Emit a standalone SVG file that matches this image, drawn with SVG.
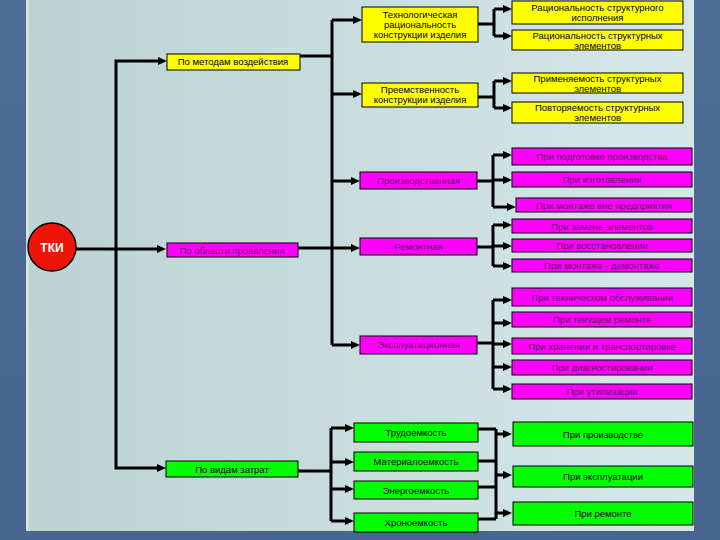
<svg xmlns="http://www.w3.org/2000/svg" width="720" height="540" viewBox="0 0 720 540">
<defs>
<linearGradient id="panel" x1="0" y1="0" x2="1" y2="0">
<stop offset="0" stop-color="#bcd3d3"/>
<stop offset="1" stop-color="#d6e7e9"/>
</linearGradient>
<linearGradient id="outer" x1="0" y1="0" x2="0" y2="1">
<stop offset="0" stop-color="#4e6d96"/>
<stop offset="1" stop-color="#47658e"/>
</linearGradient>
<marker id="arr" markerUnits="userSpaceOnUse" markerWidth="9" markerHeight="8" refX="2" refY="4" orient="auto">
<path d="M0,0 L9,4 L0,8 z" fill="#000"/>
</marker>
<style>
.bx{stroke:#000;stroke-width:1}
.y{fill:#ffff00}
.p{fill:#ff00ff}
.g{fill:#00ff00}
text{font-family:"Liberation Sans",Arial,sans-serif;font-size:9.5px;text-anchor:middle;fill:#000}
.pt{fill:#5a1f5e}
.ln{fill:none;stroke:#000;stroke-width:3}
.ar{marker-end:url(#arr)}
</style>
</defs>
<rect x="0" y="0" width="720" height="540" fill="url(#outer)"/>
<rect x="26" y="0" width="668" height="531" fill="url(#panel)"/>
<line x1="27.5" y1="0" x2="27.5" y2="531" stroke="#dbe9ed" stroke-width="2"/>

<g id="connectors">
<path class="ln ar" d="M76,249 H159"/>
<path class="ln ar" d="M116,249 V61 H160"/>
<path class="ln ar" d="M116,249 V468 H159"/>
<path class="ln" d="M300,56 H332"/>
<path class="ln" d="M332,20 V345"/>
<path class="ln ar" d="M332,20 H355"/>
<path class="ln ar" d="M332,94 H355"/>
<path class="ln ar" d="M332,181 H353"/>
<path class="ln ar" d="M298,248 H353"/>
<path class="ln ar" d="M332,345 H353"/>

<path class="ln" d="M478,24 H494 M494,9 V36"/>
<path class="ln ar" d="M494,9 H505"/>
<path class="ln ar" d="M494,36 H505"/>

<path class="ln" d="M478,97 H494 M494,81 V108"/>
<path class="ln ar" d="M494,81 H505"/>
<path class="ln ar" d="M494,108 H505"/>

<path class="ln" d="M477,181 H493 M493,155 V207"/>
<path class="ln ar" d="M493,155 H505"/>
<path class="ln ar" d="M493,180 H505"/>
<path class="ln ar" d="M493,207 H509"/>

<path class="ln" d="M477,247 H493 M493,225 V266"/>
<path class="ln ar" d="M493,225 H505"/>
<path class="ln ar" d="M493,246 H505"/>
<path class="ln ar" d="M493,266 H505"/>

<path class="ln" d="M477,343 H493 M493,300 V389"/>
<path class="ln ar" d="M493,300 H505"/>
<path class="ln ar" d="M493,323 H505"/>
<path class="ln ar" d="M493,344 H505"/>
<path class="ln ar" d="M493,367 H505"/>
<path class="ln ar" d="M493,389 H505"/>

<path class="ln" d="M298,471 H331 M331,428 V521"/>
<path class="ln ar" d="M331,428 H347"/>
<path class="ln ar" d="M331,462 H347"/>
<path class="ln ar" d="M331,489 H347"/>
<path class="ln ar" d="M331,521 H347"/>

<path class="ln" d="M478,429 H496 M478,461 H496 M478,487 H496 M478,519 H496 M496,429 V519"/>
<path class="ln ar" d="M496,434 H505"/>
<path class="ln ar" d="M496,475 H505"/>
<path class="ln ar" d="M496,513 H505"/>
</g>

<g id="tki">
<circle cx="52" cy="247" r="24" fill="#f01408" stroke="#000" stroke-width="1.5"/>
<text x="52" y="251.5" style="font-size:12px;font-weight:bold;fill:#fff">ТКИ</text>
</g>

<g id="n_metod"><rect class="bx y" x="167" y="54" width="133" height="16"/><text x="233" y="65">По методам воздействия</text></g>
<g id="n_oblast"><rect class="bx p" x="167" y="243" width="131" height="14"/><text class="pt" x="232" y="253.5">По области проявления</text></g>
<g id="n_vidy"><rect class="bx g" x="166" y="461" width="132" height="16"/><text x="232" y="472.5">По видам затрат</text></g>

<g id="n_tech"><rect class="bx y" x="362" y="7" width="116" height="35"/>
<text x="420" y="18">Технологическая</text><text x="420" y="28">рациональность</text><text x="420" y="38">конструкции изделия</text></g>
<g id="n_preem"><rect class="bx y" x="362" y="83" width="116" height="24"/>
<text x="420" y="93">Преемственность</text><text x="420" y="103">конструкции изделия</text></g>
<g id="n_rac1"><rect class="bx y" x="512" y="1" width="171" height="23"/>
<text x="597.5" y="10.5">Рациональность структурного</text><text x="597.5" y="21">исполнения</text></g>
<g id="n_rac2"><rect class="bx y" x="512" y="30" width="171" height="20"/>
<text x="597.5" y="39">Рациональность  структурных</text><text x="597.5" y="48.5">элементов</text></g>
<g id="n_prim"><rect class="bx y" x="512" y="73" width="171" height="20"/>
<text x="597.5" y="81.5">Применяемость структурных</text><text x="597.5" y="91.5">элементов</text></g>
<g id="n_povt"><rect class="bx y" x="512" y="102" width="171" height="21"/>
<text x="597.5" y="111">Повторяемость структурных</text><text x="597.5" y="121">элементов</text></g>

<g id="n_proizv"><rect class="bx p" x="360" y="172" width="117" height="17"/><text class="pt" x="418.5" y="184">Производственная</text></g>
<g id="n_p1"><rect class="bx p" x="512" y="148" width="180" height="17"/><text class="pt" x="602" y="159.5">При подготовке производства</text></g>
<g id="n_p2"><rect class="bx p" x="512" y="172" width="180" height="15"/><text class="pt" x="602" y="182.5">При изготовлении</text></g>
<g id="n_p3"><rect class="bx p" x="516" y="198" width="176" height="14"/><text class="pt" x="604" y="208.5">При монтаже вне предприятия</text></g>

<g id="n_rem"><rect class="bx p" x="360" y="238" width="117" height="17"/><text class="pt" x="418.5" y="250">Ремонтная</text></g>
<g id="n_r1"><rect class="bx p" x="512" y="219" width="180" height="14"/><text class="pt" x="602" y="229.5">При замене элементов</text></g>
<g id="n_r2"><rect class="bx p" x="512" y="239" width="180" height="13"/><text class="pt" x="602" y="249">При восстановлении</text></g>
<g id="n_r3"><rect class="bx p" x="512" y="259" width="180" height="13"/><text class="pt" x="602" y="269">При монтаже - демонтаже</text></g>

<g id="n_expl"><rect class="bx p" x="360" y="336" width="117" height="18"/><text class="pt" x="418.5" y="348">Эксплуатационная</text></g>
<g id="n_e1"><rect class="bx p" x="512" y="288" width="180" height="18"/><text class="pt" x="602" y="300.5">При техническом обслуживании</text></g>
<g id="n_e2"><rect class="bx p" x="512" y="312" width="180" height="15"/><text class="pt" x="602" y="323">При текущем ремонте</text></g>
<g id="n_e3"><rect class="bx p" x="512" y="338" width="180" height="16"/><text class="pt" x="602" y="349.5">При хранении и транспортировке</text></g>
<g id="n_e4"><rect class="bx p" x="512" y="360" width="180" height="15"/><text class="pt" x="602" y="371">При диагностировании</text></g>
<g id="n_e5"><rect class="bx p" x="512" y="384" width="180" height="15"/><text class="pt" x="602" y="395">При утилизации</text></g>

<g id="n_trud"><rect class="bx g" x="354" y="423" width="124" height="19"/><text x="416" y="436">Трудоемкость</text></g>
<g id="n_mat"><rect class="bx g" x="354" y="452" width="124" height="19"/><text x="416" y="465">Материалоемкость</text></g>
<g id="n_energ"><rect class="bx g" x="354" y="481" width="124" height="18"/><text x="416" y="494">Энергоемкость</text></g>
<g id="n_chron"><rect class="bx g" x="354" y="513" width="124" height="19"/><text x="416" y="526">Хроноемкость</text></g>

<g id="n_g1"><rect class="bx g" x="513" y="422" width="180" height="24"/><text x="603" y="438">При  производстве</text></g>
<g id="n_g2"><rect class="bx g" x="513" y="466" width="180" height="21"/><text x="603" y="480">При эксплуатации</text></g>
<g id="n_g3"><rect class="bx g" x="513" y="502" width="180" height="23"/><text x="603" y="517">При ремонте</text></g>
</svg>
